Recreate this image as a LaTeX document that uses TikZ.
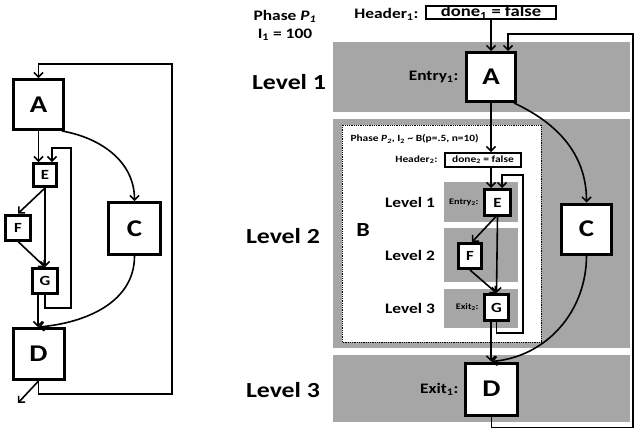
\documentclass[tikz,border=0pt]{standalone}
\usepackage{fontspec}
\setmainfont{Carlito}[FakeStretch=1.2]
\usetikzlibrary{arrows.meta}
\definecolor{bandgrey}{RGB}{166,166,166}

\begin{document}
\begin{tikzpicture}[x=1pt,y=-1pt,
    box/.style={draw,line width=3pt,fill=white,inner sep=0pt,font=\bfseries\fontsize{24}{24}\selectfont},
    sbox/.style={box,font=\bfseries\fontsize{14}{14}\selectfont},
    hbox/.style={draw,line width=2.4pt,fill=white,inner sep=0pt,font=\bfseries\fontsize{15.5}{15.5}\selectfont},
    band/.style={fill=bandgrey},
    lnk/.style={line width=1.6pt,-{Straight Barb[length=4.5pt,width=9pt,line width=1.5pt]}},
    big/.style={font=\bfseries\fontsize{21.5}{21.5}\selectfont},
    mid/.style={font=\bfseries\fontsize{14.5}{14.5}\selectfont},
    lbl/.style={font=\bfseries\fontsize{14.5}{14.5}\selectfont},
    sml/.style={font=\bfseries\fontsize{9.5}{9.5}\selectfont},
    tny/.style={font=\bfseries\fontsize{8.5}{8.5}\selectfont}]
    \useasboundingbox (0,0) rectangle (634,431);

    % 左图
    \node[box,minimum size=50pt] (lA) at (38.5,104.5) {A};
    \node[sbox,minimum size=23pt] (lE) at (45,175) {E};
    \node[sbox,minimum size=25pt] (lF) at (18,227.5) {F};
    \node[sbox,minimum size=25pt] (lG) at (45,281) {G};
    \node[box,minimum size=52pt] (lC) at (134.5,228.5) {C};
    \node[box,minimum size=51pt] (lD) at (38.5,354) {D};
    \coordinate (lout) at (18,403);

    \draw[lnk] (lA.south) -- (lA.south |- lE.north);
    \draw[lnk] (lE.south) -- (lF.north);
    \draw[lnk] (lE.south) -- (lG.north);
    \draw[lnk] (lF.south) -- (lG.north);
    \draw[lnk] (lG.south) -- ++(0,13) -| (71,148) -| ([xshift=7pt]lE.north);
    \draw[lnk] ([xshift=-3pt]lA.south east) to[out=-10,in=90] (lC.north);
    \draw[lnk] (lC.south) to[out=-90,in=5] (lD.north);
    \draw[lnk] ([xshift=-7pt]lG.south) -- ([xshift=-7pt]lG.south |- lD.north);
    \draw[lnk] (lD.south) -- (lout);
    \draw[lnk] (lD.south) -- ++(0,13) -| (172,64) -| (lA.north);

    % 右图: 层次带
    \fill[band] (333,42) rectangle (630,112);
    \fill[band] (333,119) rectangle (630,348);
    \fill[band] (333,355) rectangle (630,422);
    \draw[densely dotted,line width=0.8pt,fill=white] (342,125) rectangle (541,342);
    \fill[band] (444,182) rectangle (518,222);
    \fill[band] (444,228) rectangle (518,282);
    \fill[band] (444,289) rectangle (518,328);

    \node[lbl] at (285,16) {Phase \textit{P}\textsubscript{\textit{1}}};
    \node[lbl] at (285,35) {I\textsubscript{1} = 100};
    \node[big] at (289,82) {Level 1};
    \node[big] at (283,236) {Level 2};
    \node[big] at (283,390) {Level 3};
    \node[sml,anchor=west] at (347,139) {Phase \textit{P}\textsubscript{\textit{2}}, I\textsubscript{2} \textasciitilde{} B(p=.5, n=10)};
    \node[font=\bfseries\fontsize{20}{20}\selectfont] at (363,230) {B};
    \node[mid] at (410,202) {Level 1};
    \node[mid] at (410,255) {Level 2};
    \node[mid] at (410,308) {Level 3};

    \node[lbl,anchor=east] at (422,14) {Header\textsubscript{1}:};
    \node[hbox,minimum width=129.5pt,minimum height=12.5pt] (hd1) at (491,12.5) {done\textsubscript{1} = false};
    \node[box,minimum size=49pt] (rA) at (491,77) {A};
    \node[lbl,anchor=east] at (462,77) {Entry\textsubscript{1}:};
    \node[sml,anchor=east] at (441,160) {Header\textsubscript{2}:};
    \node[hbox,minimum width=75.5pt,minimum height=13.5pt,font=\bfseries\fontsize{9.5}{9.5}\selectfont] (hd2) at (483,160) {done\textsubscript{2} = false};
    \node[sbox,minimum size=26pt] (rE) at (497.5,202.5) {E};
    \node[tny,anchor=east] at (482,202) {Entry\textsubscript{2}:};
    \node[sbox,minimum width=23pt,minimum height=25pt] (rF) at (470,256) {F};
    \node[sbox,minimum width=24pt,minimum height=26pt] (rG) at (496.5,307.5) {G};
    \node[tny,anchor=east] at (482,307) {Exit\textsubscript{2}:};
    \node[box,minimum size=52pt] (rD) at (491.5,389) {D};
    \node[lbl,anchor=east] at (462,389) {Exit\textsubscript{1}:};
    \node[box,minimum size=50pt] (rC) at (586.5,229) {C};

    \draw[lnk] (hd1.south) -- (hd1.south |- rA.north);
    \draw[lnk] (rA.south) -- (rA.south |- hd2.north);
    \draw[lnk] (rA.south |- hd2.south) -- (rA.south |- rE.north);
    \draw[lnk] ([xshift=-2pt]rE.south) -- ([xshift=2pt]rF.north);
    \draw[lnk] (rE.south) -- (rG.north);
    \draw[lnk] (rF.south) -- (rG.north);
    \draw[lnk] (rG.south) -- ++(0,11) -| (523,175) -| ([xshift=4.5pt]rE.north);
    \draw[lnk] ([xshift=-5.5pt]rG.south) -- ([xshift=-5.5pt]rG.south |- rD.north);
    \draw[lnk] ([xshift=-3pt]rA.south east) to[out=-25,in=90] (rC.north);
    \draw[lnk] (rC.south) to[out=-90,in=5] (rD.north);
    \draw[lnk] (rD.south) -- ++(0,11) -| (633,34) -| ([xshift=17pt]rA.north);
\end{tikzpicture}
\end{document}
